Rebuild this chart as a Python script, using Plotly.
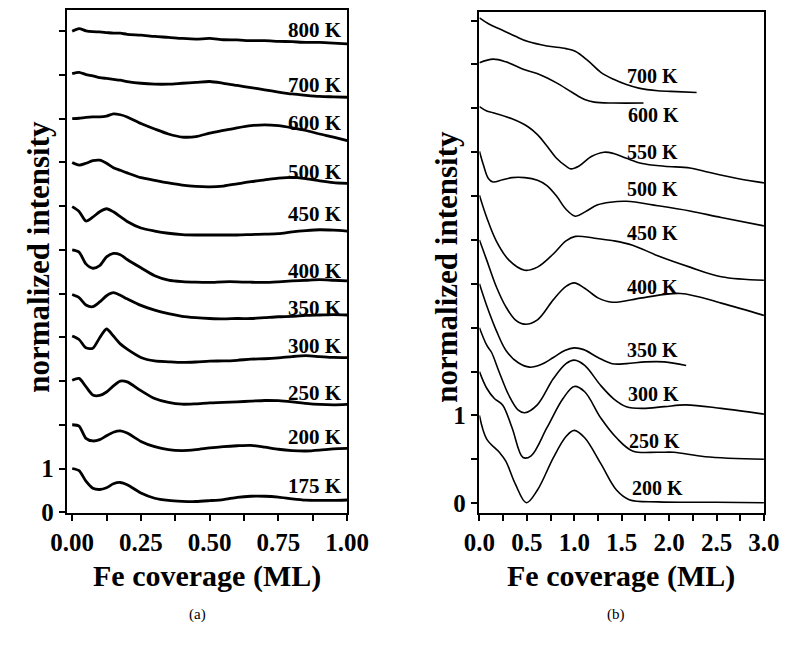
import plotly.graph_objects as go

# ---------------- panel (a) data ----------------
xa = [0, 0.025, 0.05, 0.075, 0.1, 0.125, 0.15, 0.175, 0.2, 0.25, 0.3, 0.35, 0.4,
      0.45, 0.5, 0.55, 0.6, 0.65, 0.7, 0.75, 0.8, 0.85, 0.9, 0.95, 1.0]
a_labels = ["800 K", "700 K", "600 K", "500 K", "450 K", "400 K", "350 K",
            "300 K", "250 K", "200 K", "175 K"]
a_800 = [11.0, 11.06, 11.01, 10.99, 10.985, 10.97, 10.955, 10.955, 10.93, 10.91, 10.88, 10.86,
         10.835, 10.82, 10.835, 10.805, 10.80, 10.785, 10.785, 10.77, 10.76, 10.745, 10.745, 10.73, 10.71]
a_700 = [10.03, 10.06, 10.01, 9.98, 9.94, 9.92, 9.90, 9.88, 9.85, 9.81, 9.79, 9.79, 9.81,
         9.83, 9.85, 9.81, 9.76, 9.71, 9.66, 9.61, 9.565, 9.535, 9.51, 9.50, 9.49]
a_600 = [9.0, 9.01, 9.03, 9.04, 9.04, 9.06, 9.11, 9.09, 9.04, 8.89, 8.765, 8.65, 8.58,
         8.59, 8.67, 8.73, 8.79, 8.84, 8.86, 8.84, 8.79, 8.73, 8.65, 8.58, 8.50]
a_500 = [8.0, 7.94, 7.98, 8.04, 8.05, 7.98, 7.88, 7.82, 7.76, 7.65, 7.59, 7.53, 7.48,
         7.45, 7.44, 7.46, 7.51, 7.56, 7.60, 7.64, 7.66, 7.63, 7.58, 7.54, 7.52]
a_450 = [6.99, 6.88, 6.66, 6.75, 6.87, 6.94, 6.87, 6.76, 6.65, 6.50, 6.43, 6.38, 6.35,
         6.34, 6.34, 6.34, 6.34, 6.35, 6.36, 6.37, 6.41, 6.44, 6.46, 6.45, 6.43]
a_400 = [6.0, 5.95, 5.68, 5.58, 5.64, 5.84, 5.92, 5.89, 5.78, 5.59, 5.41, 5.31, 5.275,
         5.26, 5.255, 5.27, 5.27, 5.26, 5.255, 5.27, 5.29, 5.305, 5.32, 5.305, 5.29]
a_350 = [4.98, 4.91, 4.74, 4.70, 4.81, 4.95, 5.02, 4.96, 4.88, 4.73, 4.62, 4.54, 4.48,
         4.45, 4.43, 4.42, 4.43, 4.43, 4.45, 4.47, 4.48, 4.50, 4.51, 4.52, 4.51]
a_300 = [4.03, 3.95, 3.76, 3.75, 3.99, 4.19, 4.03, 3.85, 3.73, 3.54, 3.46, 3.44, 3.425,
         3.435, 3.455, 3.46, 3.475, 3.50, 3.51, 3.53, 3.56, 3.58, 3.56, 3.54, 3.535]
a_250 = [3.02, 3.06, 2.87, 2.68, 2.67, 2.75, 2.89, 3.00, 2.98, 2.78, 2.60, 2.51, 2.47,
         2.48, 2.50, 2.51, 2.525, 2.54, 2.555, 2.55, 2.525, 2.49, 2.465, 2.455, 2.465]
a_200 = [2.0, 1.97, 1.69, 1.63, 1.66, 1.75, 1.83, 1.86, 1.81, 1.62, 1.50, 1.43, 1.41,
         1.43, 1.47, 1.50, 1.52, 1.53, 1.49, 1.44, 1.41, 1.40, 1.42, 1.45, 1.46]
a_175 = [1.0, 0.95, 0.71, 0.55, 0.52, 0.56, 0.65, 0.68, 0.63, 0.44, 0.32, 0.27, 0.25,
         0.245, 0.265, 0.29, 0.34, 0.365, 0.365, 0.345, 0.305, 0.275, 0.27, 0.27, 0.28]
a_series = [a_800, a_700, a_600, a_500, a_450, a_400, a_350, a_300, a_250, a_200, a_175]
a_label_y = [11.02, 9.77, 8.89, 7.77, 6.82, 5.51, 4.66, 3.80, 2.73, 1.72, 0.60]

# ---------------- panel (b) data ----------------
b_labels = ["700 K", "600 K", "550 K", "500 K", "450 K", "400 K", "350 K",
            "300 K", "250 K", "200 K"]
b700_x = [0, 0.1, 0.244, 0.38, 0.512, 0.712, 0.913, 1.01, 1.147, 1.28, 1.415, 1.55, 1.68, 1.88, 2.08, 2.29]
b700_y = [5.53, 5.46, 5.39, 5.32, 5.26, 5.21, 5.18, 5.15, 5.04, 4.91, 4.83, 4.77, 4.73, 4.70, 4.69, 4.68]
b600_x = [0, 0.144, 0.278, 0.478, 0.645, 0.813, 0.98, 1.11, 1.21, 1.415, 1.73]
b600_y = [5.02, 5.06, 5.03, 4.94, 4.88, 4.79, 4.68, 4.60, 4.57, 4.56, 4.56]
b550_x = [0, 0.077, 0.144, 0.344, 0.512, 0.612, 0.712, 0.813, 0.913, 0.963, 1.047, 1.18,
          1.314, 1.415, 1.55, 1.716, 1.95, 2.22, 2.38, 2.72, 3.0]
b550_y = [4.52, 4.47, 4.45, 4.38, 4.29, 4.20, 4.07, 3.93, 3.84, 3.81, 3.84, 3.95,
          4.00, 3.985, 3.93, 3.87, 3.84, 3.82, 3.78, 3.70, 3.65]
b500_x = [0, 0.043, 0.094, 0.144, 0.244, 0.344, 0.478, 0.612, 0.712, 0.813, 0.913, 1.013,
          1.114, 1.247, 1.38, 1.55, 1.88, 2.22, 2.55, 3.0]
b500_y = [4.01, 3.85, 3.70, 3.66, 3.685, 3.71, 3.71, 3.68, 3.62, 3.50, 3.35, 3.27,
          3.32, 3.40, 3.43, 3.44, 3.39, 3.33, 3.255, 3.16]
b450_x = [0, 0.077, 0.177, 0.311, 0.478, 0.612, 0.779, 0.913, 1.013, 1.214, 1.415, 1.615,
          1.88, 2.22, 2.55, 3.0]
b450_y = [3.51, 3.255, 2.99, 2.77, 2.655, 2.69, 2.84, 2.99, 3.04, 3.02, 2.99, 2.94,
          2.82, 2.69, 2.58, 2.54]
b400_x = [0, 0.077, 0.177, 0.278, 0.378, 0.478, 0.612, 0.78, 0.913, 1.0, 1.11, 1.25,
          1.40, 1.716, 2.12, 2.55, 3.0]
b400_y = [3.0, 2.77, 2.47, 2.24, 2.09, 2.04, 2.09, 2.32, 2.47, 2.51, 2.45, 2.34,
          2.29, 2.34, 2.39, 2.28, 2.14]
b350_x = [0, 0.077, 0.177, 0.28, 0.41, 0.53, 0.65, 0.78, 0.9, 1.0, 1.1, 1.25, 1.4, 1.55,
          1.75, 1.95, 2.18]
b350_y = [2.5, 2.25, 1.97, 1.74, 1.60, 1.55, 1.58, 1.66, 1.74, 1.77, 1.75, 1.66, 1.59, 1.59,
          1.61, 1.61, 1.57]
b300_x = [0, 0.077, 0.127, 0.21, 0.31, 0.41, 0.478, 0.61, 0.78, 0.913, 1.0, 1.11, 1.28,
          1.415, 1.55, 1.72, 1.95, 2.18, 2.55, 3.0]
b300_y = [2.0, 1.80, 1.72, 1.49, 1.23, 1.06, 1.03, 1.12, 1.42, 1.59, 1.63, 1.57, 1.34,
          1.19, 1.10, 1.08, 1.10, 1.12, 1.08, 1.015]
b250_x = [0, 0.077, 0.16, 0.244, 0.344, 0.46, 0.545, 0.712, 0.88, 1.0, 1.11, 1.28, 1.445,
          1.615, 1.88, 2.05, 2.38, 3.0]
b250_y = [1.50, 1.31, 1.19, 1.12, 0.86, 0.52, 0.54, 0.86, 1.19, 1.33, 1.27, 0.97, 0.745,
          0.595, 0.58, 0.58, 0.53, 0.50]
b200_x = [0, 0.077, 0.21, 0.278, 0.378, 0.495, 0.612, 0.78, 0.913, 1.0, 1.11, 1.28, 1.445,
          1.58, 1.88, 2.5, 3.0]
b200_y = [1.0, 0.73, 0.58, 0.48, 0.22, 0.005, 0.15, 0.52, 0.76, 0.83, 0.745, 0.45, 0.15,
          0.04, 0.015, 0.01, 0.005]
b_series = [(b700_x, b700_y), (b600_x, b600_y), (b550_x, b550_y), (b500_x, b500_y),
            (b450_x, b450_y), (b400_x, b400_y), (b350_x, b350_y), (b300_x, b300_y),
            (b250_x, b250_y), (b200_x, b200_y)]
b_label_x = [1.535, 1.545, 1.535, 1.535, 1.535, 1.535, 1.535, 1.545, 1.555, 1.585]
b_label_y = [4.87, 4.42, 4.00, 3.58, 3.08, 2.46, 1.745, 1.24, 0.705, 0.168]

# tick labels
a_xticks = [i * 0.125 for i in range(9)]
a_xtext = ["0.00", "", "0.25", "", "0.50", "", "0.75", "", "1.00"]
a_yticks = list(range(12))
a_ytext = ["0", "1"] + [""] * 10
b_xticks = [i * 0.25 for i in range(13)]
b_xtext = ["0.0", "", "0.5", "", "1.0", "", "1.5", "", "2.0", "", "2.5", "", "3.0"]
b_yticks = [i * 0.5 for i in range(12)]
b_ytext = ["0", "", "1"] + [""] * 9

FONT = "Liberation Serif, Times New Roman, serif"
W, H = 804, 658

fig = go.Figure()
for ys in a_series:
    fig.add_trace(go.Scatter(x=xa, y=ys, mode="lines", xaxis="x", yaxis="y",
                             line=dict(color="black", width=2.8, shape="spline", smoothing=0.7),
                             showlegend=False, hoverinfo="skip"))
for bx, by in b_series:
    fig.add_trace(go.Scatter(x=bx, y=by, mode="lines", xaxis="x2", yaxis="y2",
                             line=dict(color="black", width=1.6, shape="spline", smoothing=1.0),
                             showlegend=False, hoverinfo="skip"))

ann = []
for lab, yv in zip(a_labels, a_label_y):
    ann.append(dict(x=0.99, y=yv, xref="x", yref="y", text="<b>" + lab + "</b>",
                    showarrow=False, xanchor="right", yanchor="middle",
                    font=dict(family=FONT, size=21, color="black")))
for lab, xv, yv in zip(b_labels, b_label_x, b_label_y):
    ann.append(dict(x=xv, y=yv, xref="x2", yref="y2", text="<b>" + lab + "</b>",
                    showarrow=False, xanchor="left", yanchor="middle",
                    font=dict(family=FONT, size=20, color="black")))

def px_x(p):
    return p / W
def px_y(p):
    return 1 - p / H

for cx in (200, 635):
    ann.append(dict(x=px_x(cx), y=px_y(588), xref="paper", yref="paper",
                    text="<b>Fe coverage (ML)</b>", showarrow=False,
                    xanchor="center", yanchor="middle",
                    font=dict(family=FONT, size=30, color="black")))
for cx, cy in ((23, 262), (452, 272)):
    ann.append(dict(x=px_x(cx), y=px_y(cy), xref="paper", yref="paper",
                    text="<b>normalized intensity</b>", showarrow=False, textangle=-90,
                    xanchor="center", yanchor="middle",
                    font=dict(family=FONT, size=31, color="black")))
for cx, t in ((190, "(a)"), (630, "(b)")):
    ann.append(dict(x=px_x(cx), y=px_y(627), xref="paper", yref="paper",
                    text=t, showarrow=False, xanchor="center", yanchor="middle",
                    font=dict(family=FONT, size=15, color="black")))

axis_common = dict(showline=True, linecolor="black", linewidth=1.5, mirror=True,
                   ticks="outside", ticklen=7, tickwidth=1.5, tickcolor="black",
                   showgrid=False, zeroline=False,
                   tickfont=dict(family=FONT, size=25, color="black", weight="bold"))

fig.update_layout(
    width=W, height=H,
    margin=dict(l=0, r=0, t=0, b=0),
    paper_bgcolor="white", plot_bgcolor="white",
    xaxis=dict(domain=[53 / W, 347 / W], range=[-0.0173, 1.0], tickmode="array",
               tickvals=a_xticks, ticktext=a_xtext, anchor="y", **axis_common),
    yaxis=dict(domain=[1 - 523 / H, 1 - 10 / H], range=[-0.01, 11.49], tickmode="array",
               tickvals=a_yticks, ticktext=a_ytext, anchor="x", **axis_common),
    xaxis2=dict(domain=[486 / W, 785 / W], range=[0, 3.0], tickmode="array",
                tickvals=b_xticks, ticktext=b_xtext, anchor="y2", **axis_common),
    yaxis2=dict(domain=[1 - 523 / H, 1 - 12 / H], range=[-0.108, 5.60], tickmode="array",
                tickvals=b_yticks, ticktext=b_ytext, anchor="x2", **axis_common),
    annotations=ann,
)

fig.write_html("out.html")
